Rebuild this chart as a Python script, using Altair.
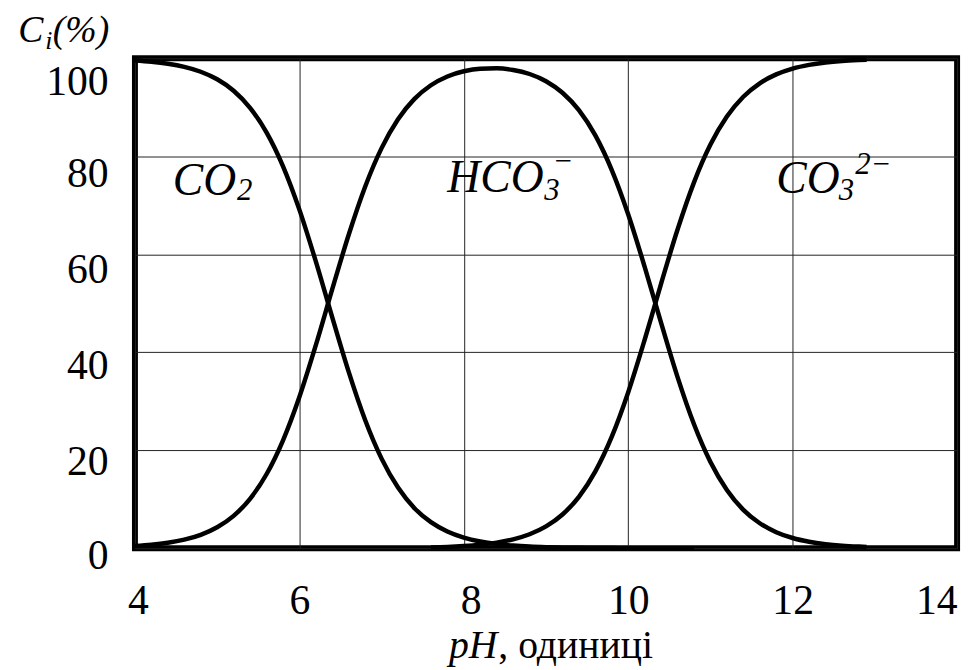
import altair as alt
import pandas as pd

# pH grid (x values read along the axis)
ph = [4.0, 4.2, 4.4, 4.6, 4.8, 5.0, 5.2, 5.4, 5.6, 5.8,
      6.0, 6.2, 6.4, 6.6, 6.8, 7.0, 7.2, 7.4, 7.6, 7.8,
      8.0, 8.2, 8.4, 8.6, 8.8, 9.0, 9.2, 9.4, 9.6, 9.8,
      10.0, 10.2, 10.4, 10.6, 10.8, 11.0, 11.2, 11.4, 11.6, 11.8,
      12.0, 12.2, 12.4, 12.6, 12.8, 12.9]

# CO2 share, %, pH 4.0 ... 10.8
co2 = [99.56, 99.30, 98.89, 98.25, 97.26, 95.72, 93.39, 89.91, 84.90, 78.01,
       69.12, 58.55, 47.12, 36.00, 26.18, 18.29, 12.38, 8.17, 5.32, 3.42,
       2.18, 1.38, 0.87, 0.55, 0.34, 0.21, 0.13, 0.08, 0.05, 0.03,
       0.02, 0.01, 0.01, 0.00, 0.00]

# HCO3- share, %, pH 4.0 ... 12.9
hco3 = [0.44, 0.70, 1.11, 1.75, 2.74, 4.28, 6.61, 10.09, 15.10, 21.99,
        30.88, 41.45, 52.88, 63.99, 73.80, 81.67, 87.56, 91.72, 94.51, 96.30,
        97.36, 97.89, 97.97, 97.63, 96.80, 95.33, 92.97, 89.42, 84.27, 77.19,
        68.13, 57.43, 45.98, 34.94, 25.31, 17.61, 11.89, 7.84, 5.10, 3.28,
        2.09, 1.33, 0.84, 0.53, 0.34, 0.27]

# CO3^2- share, %, pH 7.6 ... 12.9
co3_start = 18
co3 = [0.18, 0.28, 0.46, 0.73, 1.15, 1.82, 2.86, 4.46, 6.89, 10.50,
       15.69, 22.78, 31.86, 42.56, 54.02, 65.06, 74.69, 82.39, 88.11, 92.16,
       94.90, 96.72, 97.91, 98.67, 99.16, 99.47, 99.66, 99.73]

x_ticks = [4, 6, 8, 10, 12, 14]
y_ticks = [0, 20, 40, 60, 80, 100]

# text pieces: text, pH position, % position, font size
italic_text = ["CO", "2", "HCO", "3", "\u2212", "CO", "3", "2\u2212", "C", "i", "(%)", "pH"]
italic_x = [4.46, 5.24, 7.80, 8.98, 9.08, 11.80, 12.56, 12.76, 2.58, 2.91, 3.00, 7.82]
italic_y = [72.06, 71.0, 72.67, 71.0, 76.92, 72.47, 71.0, 76.32, 103.4, 101.9, 103.4, -22.5]
italic_size = [46, 31, 46, 31, 31, 46, 31, 31, 38, 26, 38, 40]

normal_text = [", одиниці"]
normal_x = [8.42]
normal_y = [-22.5]
normal_size = [40]

rows = []
for i, v in enumerate(co2):
    rows.append({"ph": ph[i], "c": v, "s": "CO2"})
for i, v in enumerate(hco3):
    rows.append({"ph": ph[i], "c": v, "s": "HCO3"})
for i, v in enumerate(co3):
    rows.append({"ph": ph[co3_start + i], "c": v, "s": "CO3"})
df = pd.DataFrame(rows)

df_it = pd.DataFrame({"t": italic_text, "ph": italic_x, "c": italic_y, "fs": italic_size})
df_no = pd.DataFrame({"t": normal_text, "ph": normal_x, "c": normal_y, "fs": normal_size})

FONT = "Liberation Serif"

xscale = alt.Scale(domain=[4, 14], nice=False, zero=False)
yscale = alt.Scale(domain=[0, 100], nice=False)

xaxis = alt.Axis(
    values=x_ticks, title=None, grid=True, gridColor="#222", gridWidth=1,
    domain=False, ticks=False, tickSize=0, format="d",
    labelFont=FONT, labelFontSize=42, labelColor="black",
    labelBaseline="alphabetic", labelPadding=66, labelAlign="center",
    labelOffset={"condition": [{"test": "datum.value == 14", "value": -21},
                               {"test": "datum.value == 8", "value": 7},
                               {"test": "datum.value == 4", "value": 3}],
                 "value": 0},
)
yaxis = alt.Axis(
    values=y_ticks, title=None, grid=True, gridColor="#222", gridWidth=1,
    domain=False, ticks=False, tickSize=0, format="d",
    labelFont=FONT, labelFontSize=42, labelColor="black",
    labelBaseline="alphabetic", labelPadding=27, labelAlign="right",
    labelOffset={"condition": [{"test": "datum.value == 100", "value": 36},
                               {"test": "datum.value == 80", "value": 30},
                               {"test": "datum.value == 60", "value": 28},
                               {"test": "datum.value == 40", "value": 26},
                               {"test": "datum.value == 20", "value": 24}],
                 "value": 20},
)

lines = alt.Chart(df).mark_line(
    color="black", strokeWidth=4.5, interpolate="monotone"
).encode(
    x=alt.X("ph:Q", scale=xscale, axis=xaxis),
    y=alt.Y("c:Q", scale=yscale, axis=yaxis),
    detail="s:N",
)

txt_it = alt.Chart(df_it).mark_text(
    font=FONT, fontStyle="italic", align="left", baseline="alphabetic", color="black"
).encode(
    x=alt.X("ph:Q", scale=xscale),
    y=alt.Y("c:Q", scale=yscale),
    text="t:N",
    size=alt.Size("fs:Q", scale=None),
)

txt_no = alt.Chart(df_no).mark_text(
    font=FONT, align="left", baseline="alphabetic", color="black"
).encode(
    x=alt.X("ph:Q", scale=xscale),
    y=alt.Y("c:Q", scale=yscale),
    text="t:N",
    size=alt.Size("fs:Q", scale=None),
)

chart = alt.layer(lines, txt_it, txt_no).properties(
    width=829, height=494,
    autosize="none",
    padding={"left": 128, "top": 48, "right": 11, "bottom": 118},
    background="white",
).configure_view(stroke="black", strokeWidth=6)

chart.save("out.html", embed_options={"renderer": "svg", "actions": False})
